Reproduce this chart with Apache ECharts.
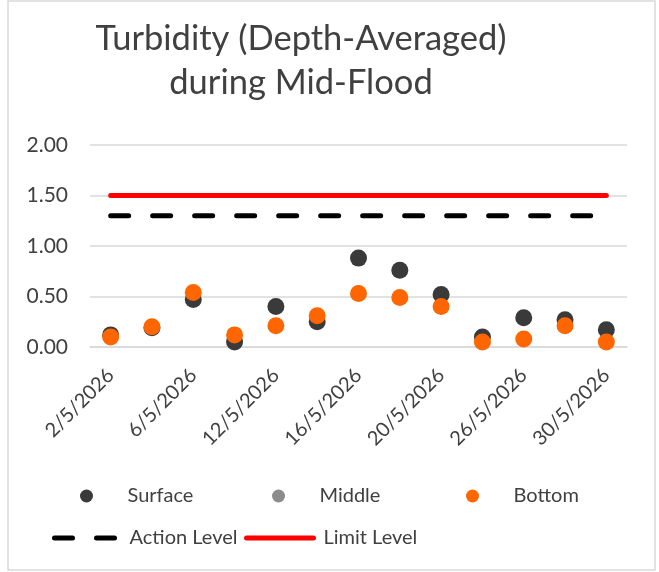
<!DOCTYPE html>
<html>
<head>
<meta charset="utf-8">
<script src="https://cdn.jsdelivr.net/npm/echarts@6/dist/echarts.min.js"></script>
<style>
  html, body { margin: 0; padding: 0; background: #fff; }
  #chart { width: 659px; height: 572px; }
</style>
</head>
<body>
<div id="chart"></div>
<script>
// Sampling dates (day/month/year)
const dates = ['2/5/2026', '4/5/2026', '6/5/2026', '9/5/2026', '12/5/2026', '14/5/2026', '16/5/2026',
               '18/5/2026', '20/5/2026', '23/5/2026', '26/5/2026', '28/5/2026', '30/5/2026'];

// Depth-averaged turbidity at each depth
const surface = [0.12, 0.19, 0.47, 0.05, 0.40, 0.25, 0.88, 0.76, 0.52, 0.10, 0.29, 0.27, 0.17];
const middle  = [];
const bottom  = [0.10, 0.20, 0.54, 0.12, 0.21, 0.31, 0.53, 0.49, 0.40, 0.05, 0.08, 0.21, 0.05];

// Compliance levels
const actionLevel = dates.map(() => 1.30);
const limitLevel  = dates.map(() => 1.50);

const yTicks = { min: 0, max: 2, interval: 0.5 };

const FONT = 'Lato';
const TXT = '#404040';

const chart = echarts.init(document.getElementById('chart'), null, { renderer: 'canvas' });

function legendAt(name, left, top, w, h, padLeft) {
  return {
    data: [name], left: left, top: top, itemWidth: w, itemHeight: h,
    textStyle: { color: TXT, fontFamily: FONT, fontSize: 20, padding: [0, 0, 0, padLeft || 0] },
    lineStyle: { width: 5, cap: 'round' },
    selectedMode: false, padding: 0
  };
}

chart.setOption({
  animation: false,
  graphic: [
    { type: 'rect', shape: { x: 8, y: 1, width: 647, height: 569 },
      style: { fill: 'none', stroke: '#d9d9d9', lineWidth: 1.5 } },
    { type: 'text', x: 301, y: 21,
      style: { text: 'Turbidity (Depth-Averaged)', align: 'center', fill: TXT,
               font: '34.5px ' + FONT } },
    { type: 'text', x: 301, y: 65,
      style: { text: 'during Mid-Flood', align: 'center', fill: TXT,
               font: '34.5px ' + FONT } }
  ],
  legend: [
    legendAt('Surface', 80, 486, 72, 13),
    legendAt('Middle', 272, 486, 72, 13),
    legendAt('Bottom', 466, 486, 72, 13),
    legendAt('Action Level', 52, 528, 60, 13, 10),
    legendAt('Limit Level', 244, 528, 67, 13, 5)
  ],
  grid: { left: 90, right: 32, top: 145, bottom: 225 },
  xAxis: {
    type: 'category',
    data: dates,
    boundaryGap: true,
    axisLine: { lineStyle: { color: '#d9d9d9', width: 1.5 } },
    axisTick: { show: false },
    axisLabel: { interval: 1, rotate: 45, margin: 25, color: TXT,
                 fontFamily: FONT, fontSize: 20 }
  },
  yAxis: {
    type: 'value',
    min: yTicks.min, max: yTicks.max, interval: yTicks.interval,
    axisLine: { show: false },
    axisTick: { show: false },
    splitLine: { lineStyle: { color: '#d9d9d9', width: 1.5 } },
    axisLabel: { margin: 22, color: TXT, fontFamily: FONT, fontSize: 21,
                 formatter: v => v.toFixed(2) }
  },
  series: [
    { name: 'Action Level', type: 'line', data: actionLevel, symbol: 'none',
      lineStyle: { color: '#000', width: 5, type: [18, 24], cap: 'round' },
      itemStyle: { color: '#000', opacity: 0 }, z: 2 },
    { name: 'Limit Level', type: 'line', data: limitLevel, symbol: 'none',
      lineStyle: { color: '#ff0000', width: 5, cap: 'round' },
      itemStyle: { color: '#ff0000', opacity: 0 }, z: 2 },
    { name: 'Surface', type: 'scatter', data: surface, symbolSize: 17,
      itemStyle: { color: '#3a3a3a', opacity: 1 }, z: 3 },
    { name: 'Middle', type: 'scatter', data: middle, symbolSize: 17,
      itemStyle: { color: '#8c8c8c', opacity: 1 }, z: 3 },
    { name: 'Bottom', type: 'scatter', data: bottom, symbolSize: 17,
      itemStyle: { color: '#ff6600', opacity: 1 }, z: 3 }
  ]
});
</script>
</body>
</html>
